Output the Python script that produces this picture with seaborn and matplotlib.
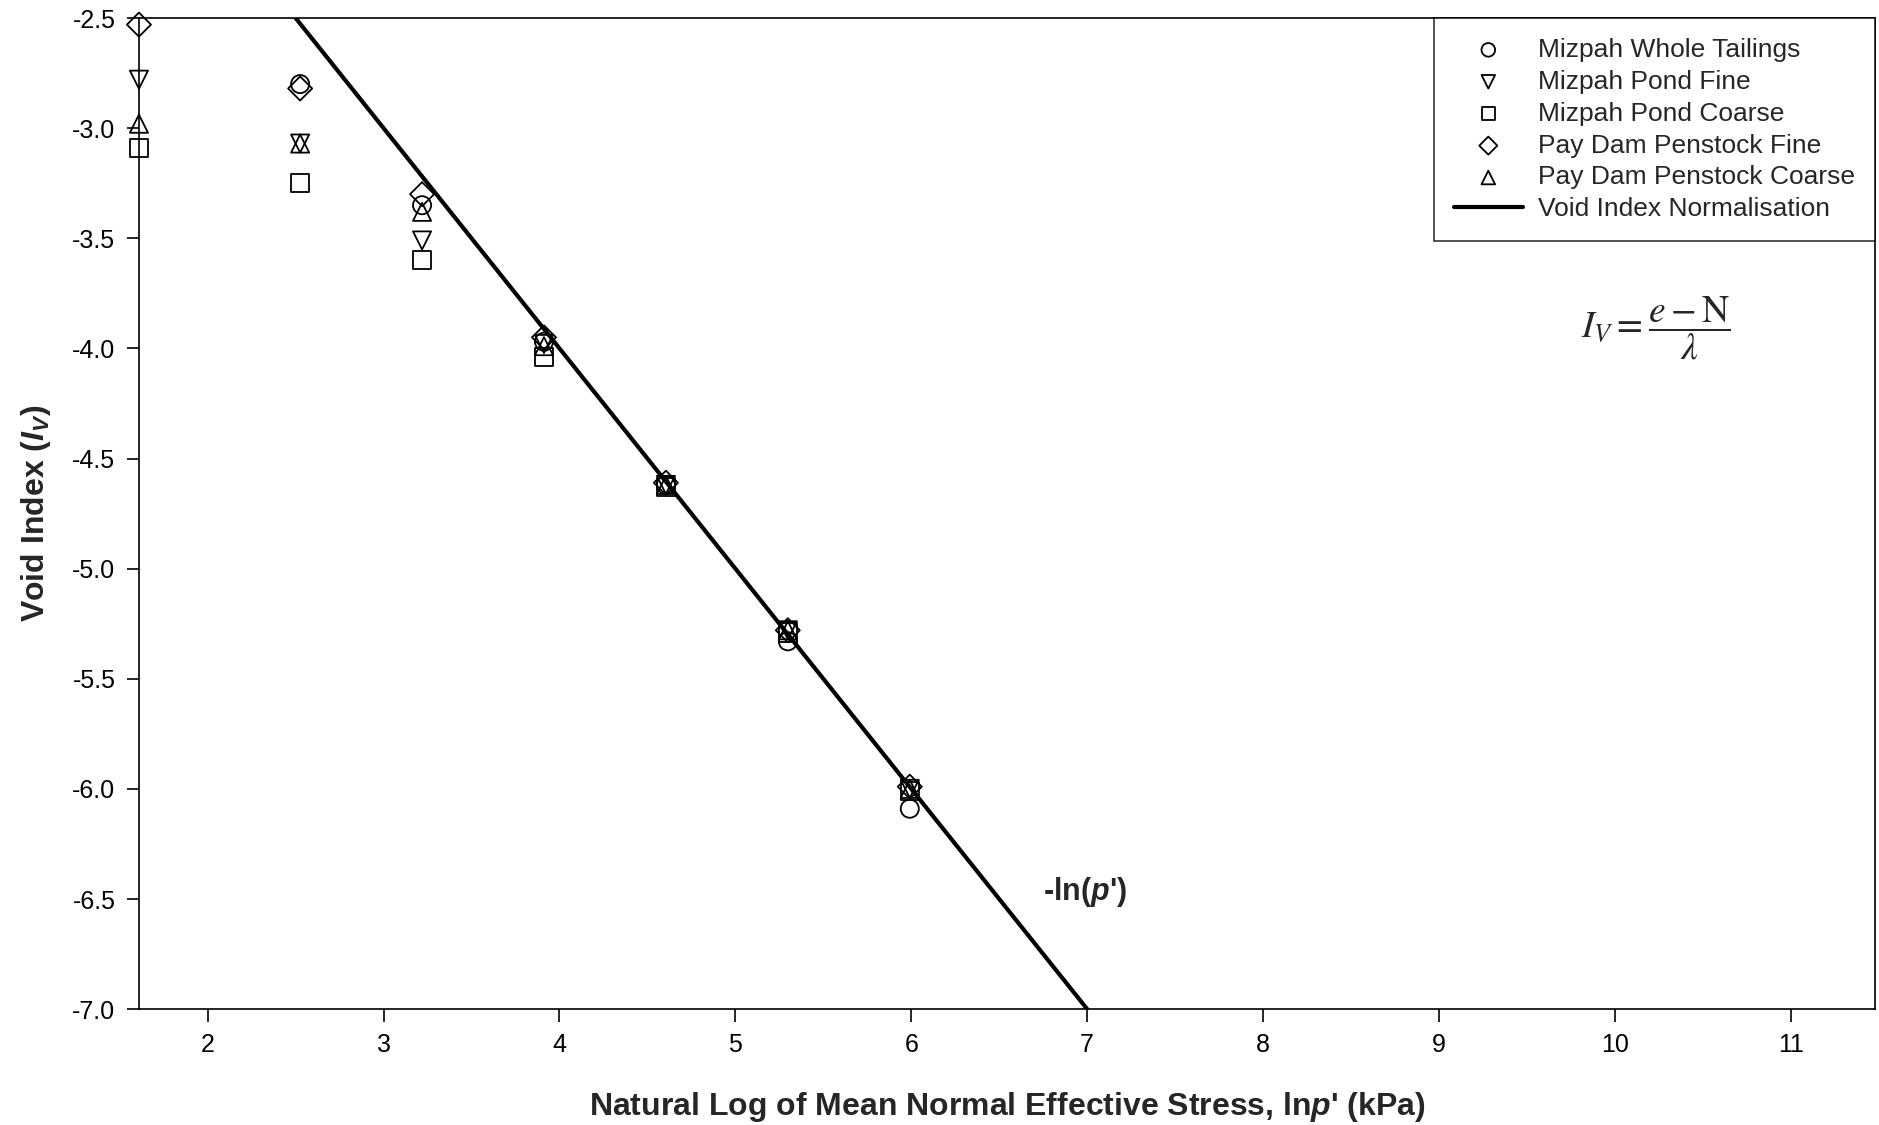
import numpy as np
import pandas as pd
import matplotlib
matplotlib.use("Agg")
import matplotlib.pyplot as plt
import seaborn as sns

# mean normal effective stress (kPa) -> natural log on the x axis
stress_kpa = [5, 12.5, 25, 50, 100, 200, 400]
ln_p = list(np.log(stress_kpa))

# void index readings for each sample (None = no point)
whole_tailings = [None, -2.80, -3.35, -3.97, -4.62, -5.33, -6.09]
pond_fine = [-2.78, -3.07, -3.51, -3.98, -4.62, -5.28, -6.00]
pond_coarse = [-3.09, -3.25, -3.60, -4.04, -4.63, -5.29, -6.01]
penstock_fine = [-2.53, -2.82, -3.30, -3.95, -4.61, -5.28, -5.99]
penstock_coarse = [-2.98, -3.07, -3.38, -3.99, -4.62, -5.28, -6.00]

series_names = ["Mizpah Whole Tailings", "Mizpah Pond Fine", "Mizpah Pond Coarse",
                "Pay Dam Penstock Fine", "Pay Dam Penstock Coarse"]
series_values = [whole_tailings, pond_fine, pond_coarse, penstock_fine, penstock_coarse]
series_markers = ["o", "v", "s", "D", "^"]

# normalisation line  I_V = -ln(p')
line_x = [2.5, 7.0]
line_y = [-2.5, -7.0]

x_ticks = [2, 3, 4, 5, 6, 7, 8, 9, 10, 11]
y_ticks = [-7.0, -6.5, -6.0, -5.5, -5.0, -4.5, -4.0, -3.5, -3.0, -2.5]

sns.set_style("ticks")
plt.rcParams["font.family"] = ["Liberation Sans", "DejaVu Sans"]
plt.rcParams["mathtext.fontset"] = "custom"
plt.rcParams["mathtext.it"] = "Liberation Sans:italic:bold"
plt.rcParams["mathtext.bf"] = "Liberation Sans:bold"

fig = plt.figure(figsize=(18.79, 11.25), dpi=100)
ax = fig.add_axes([0.074, 0.103, 0.924, 0.881])

for name, vals, m in zip(series_names, series_values, series_markers):
    df = pd.DataFrame({"x": ln_p, "y": vals}).dropna()
    msize = 150 if m == "D" else 170
    sns.scatterplot(data=df, x="x", y="y", marker=m, s=msize, color="black",
                    facecolors="none", edgecolors="black", linewidths=1.3,
                    label=name, ax=ax, zorder=3, clip_on=False)

sns.lineplot(x=line_x, y=line_y, color="black", linewidth=3,
             label="Void Index Normalisation", ax=ax, zorder=2)

ax.set_xlim(1.61, 11.48)
ax.set_ylim(-7.0, -2.5)
ax.set_xticks(x_ticks)
ax.set_yticks(y_ticks)
ax.set_yticklabels([f"{v:.1f}" for v in y_ticks])
ax.tick_params(direction="out", length=9, width=1.2, labelsize=18, pad=8, colors="black")
for sp in ax.spines.values():
    sp.set_visible(True)
    sp.set_color("black")
    sp.set_linewidth(1.2)

ax.set_xlabel("Natural Log of Mean Normal Effective Stress, ln$\\it{p}$' (kPa)",
              fontsize=23, fontweight="bold", labelpad=24)
ax.set_ylabel("Void Index ($\\it{I_V}$)", fontsize=23, fontweight="bold", labelpad=14)

ax.text(6.75, -6.47, "-ln($\\it{p}$')", fontsize=22, fontweight="bold", ha="left", va="center")
ax.text(10.23, -3.91, r"$I_V = \dfrac{e - \mathrm{N}}{\lambda}$", fontsize=27,
        ha="center", va="center", math_fontfamily="stix")

leg = ax.legend(loc="upper right", fontsize=19, frameon=True, fancybox=False,
                edgecolor="black", borderaxespad=0, handlelength=2.6,
                handletextpad=0.6, borderpad=0.75, labelspacing=0.3, markerscale=0.75)
leg.get_frame().set_linewidth(1.2)

fig.savefig("out.png", dpi=100)
